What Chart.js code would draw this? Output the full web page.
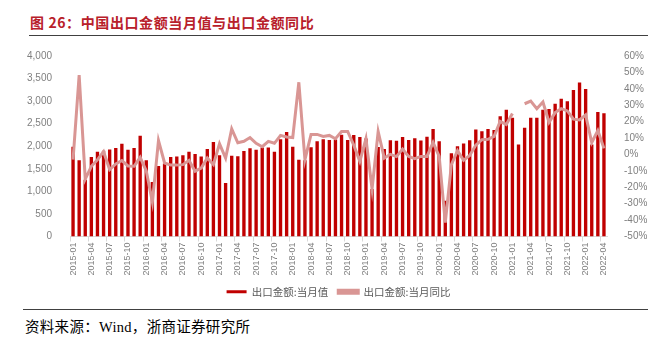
<!DOCTYPE html>
<html>
<head>
<meta charset="utf-8">
<script src="https://cdn.jsdelivr.net/npm/chart.js@4/dist/chart.umd.min.js"></script>
<style>
  body { margin: 0; background: #fff; width: 657px; height: 346px; position: relative; overflow: hidden; }
  #title { position: absolute; left: 30px; top: 12px; font: bold 14px "Noto Sans CJK SC", sans-serif; letter-spacing: 0.6px; color: #B8202A; white-space: nowrap; }
  #topline { position: absolute; left: 29px; top: 35px; width: 619px; height: 0; border-top: 1.5px solid #404040; }
  #bottomline { position: absolute; left: 23px; top: 309px; width: 625px; height: 0; border-top: 1.5px solid #404040; }
  #source { position: absolute; left: 25px; top: 315px; font: 14.5px "Liberation Serif", "Noto Sans CJK SC", serif; letter-spacing: 0.3px; color: #000; white-space: nowrap; }
  #wrap { position: absolute; left: 0; top: 40px; width: 657px; height: 267px; }
</style>
</head>
<body>
<div id="title">图 26：中国出口金额当月值与出口金额同比</div>
<div id="topline"></div>
<div id="wrap"><canvas id="chart"></canvas></div>
<div id="bottomline"></div>
<div id="source">资料来源：Wind，浙商证券研究所</div>
<script>
// months 2015-01 .. 2022-04
var months = [];
for (var y = 2015; y <= 2022; y++) {
    for (var m = 1; m <= 12; m++) {
        if (y == 2022 && m > 4) break;
        months.push(y + "-" + (m < 10 ? "0" + m : m));
    }
}

// 出口金额:当月值 (亿美元)
var exportValue = [
    1990, 1690, 1260, 1760, 1880, 1900, 1930, 1960, 2055, 1920, 1960, 2235,
    1690, 1210, 1560, 1615, 1760, 1775, 1800, 1880, 1830, 1775, 1940, 2095,
    1800, 1185, 1790, 1780, 1895, 1955, 1920, 1975, 1975, 1880, 2155, 2315,
    1990, 1700, 1690, 1980, 2110, 2155, 2140, 2150, 2255, 2140, 2250, 2205,
    2170, 1050, 1985, 1940, 2135, 2120, 2205, 2140, 2175, 2130, 2210, 2385,
    2110, 795, 1845, 2000, 2060, 2135, 2370, 2335, 2380, 2360, 2665, 2810,
    2630, 2040, 2410, 2630, 2630, 2810, 2825, 2940, 3050, 3000, 3245, 3410,
    3270, 2040, 2760, 2730
];

// 出口金额:当月同比 (%)
var exportYoy = [
    -3.2, 48.3, -15, -7.2, -3.2, 1.7, -9.2, -5.8, -3.7, -7, -7.2, -1.8,
    -10, -29, 8.5, -5.2, -6.5, -6.5, -6.2, -3.6, -10.2, -8.3, -2.2, -6.2,
    6.5, -2.2, 15.6, 7.1, 8, 10.3, 6.8, 4.7, 8, 6.8, 11.6, 10.6,
    10.3, 44, -3.2, 12.2, 12.2, 11, 11.6, 9.6, 14, 14, 5.7, -4.2,
    9.6, -21, 14, -2.2, 0.1, -1.3, 3.3, -1.2, -2.6, -1.2, -1.2, 7.3,
    -1.2, -41.5, -6.2, 2.3, -3.6, -0.6, 5.7, 9, 9.2, 11, 20.2, 18.2,
    24.9, null, 30.9, 32.5, 27.9, 32, 19.6, 25.5, 27.9, 26.5, 21.5, 21,
    24.1, 7.3, 14.6, 3.7
];

var tickColor = "#808080";
var tickFont = { family: "'Liberation Sans', Arial, sans-serif", size: 10 };

var ctx = document.getElementById("chart");

var chart = new Chart(ctx, {
    type: "bar",
    data: {
        labels: months,
        datasets: [
            {
                label: "出口金额:当月值",
                data: exportValue,
                backgroundColor: "#C00000",
                borderWidth: 0,
                barPercentage: 0.55,
                categoryPercentage: 1.0,
                yAxisID: "y",
                order: 1
            },
            {
                type: "line",
                label: "出口金额:当月同比",
                data: exportYoy,
                borderColor: "#D99694",
                backgroundColor: "#D99694",
                borderWidth: 3,
                pointRadius: 0,
                tension: 0,
                spanGaps: false,
                yAxisID: "y1",
                order: 0
            }
        ]
    },
    options: {
        responsive: true,
        maintainAspectRatio: false,
        animation: false,
        // left padding keeps the legend centred under the plot area
        layout: { padding: { top: 12, left: 20, right: 0, bottom: 0 } },
        plugins: {
            tooltip: { enabled: false },
            legend: {
                position: "bottom",
                labels: {
                    boxWidth: 20,
                    boxHeight: 3,
                    padding: 10,
                    color: "#595959",
                    font: { family: "'Noto Sans CJK SC', sans-serif", size: 10.5 },
                    sort: function(a, b) { return a.datasetIndex - b.datasetIndex; }
                }
            }
        },
        scales: {
            x: {
                grid: {
                    offset: true,
                    drawOnChartArea: false,
                    drawTicks: true,
                    tickLength: 5,
                    color: function(c) { return c.index % 3 == 0 ? "#D9D9D9" : "rgba(0,0,0,0)"; }
                },
                border: { color: "#D9D9D9" },
                ticks: {
                    autoSkip: false,
                    minRotation: 90,
                    maxRotation: 90,
                    padding: 1,
                    color: tickColor,
                    font: { family: "'Liberation Sans', Arial, sans-serif", size: 9 },
                    callback: function(val, i) { return i % 3 == 0 ? months[i] : ""; }
                },
                afterFit: function(scale) { scale.height = 40; }
            },
            y: {
                position: "left",
                min: 0,
                max: 4000,
                grid: { display: false },
                border: { display: false },
                ticks: {
                    stepSize: 500,
                    padding: 10,
                    color: tickColor,
                    font: tickFont,
                    callback: function(v) { return v.toLocaleString("en-US"); }
                },
                afterFit: function(scale) { scale.width = 50; }
            },
            y1: {
                position: "right",
                min: -50,
                max: 60,
                grid: { display: false },
                border: { display: false },
                ticks: {
                    stepSize: 10,
                    padding: 9,
                    color: tickColor,
                    font: tickFont,
                    callback: function(v) { return v + "%"; }
                },
                afterFit: function(scale) { scale.width = 50; }
            }
        }
    }
});
</script>
</body>
</html>
